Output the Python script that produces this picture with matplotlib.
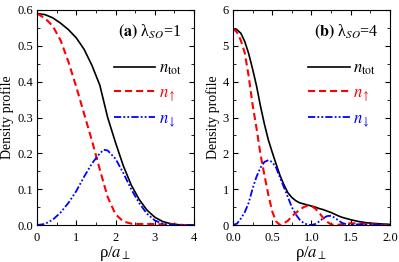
import numpy as np
import matplotlib
matplotlib.use('Agg')
import matplotlib.pyplot as plt
from matplotlib.ticker import MultipleLocator

plt.rcParams['font.family'] = ['Liberation Serif', 'DejaVu Serif']
plt.rcParams['mathtext.fontset'] = 'stix'

# panel (a), lambda_SO = 1
xa = [0, 0.2, 0.4, 0.6, 0.8, 1.0, 1.2, 1.4, 1.6, 1.8, 2.0, 2.2, 2.4, 2.6, 2.8, 3.0, 3.2, 3.4, 3.6, 3.8, 4.0]
ntot_a = [0.59, 0.587, 0.578, 0.563, 0.545, 0.522, 0.49, 0.445, 0.39, 0.30, 0.23, 0.165, 0.112, 0.072, 0.042, 0.022, 0.010, 0.004, 0.001, 0.0, 0.0]
nup_a = [0.59, 0.577, 0.555, 0.515, 0.455, 0.385, 0.31, 0.235, 0.155, 0.078, 0.03, 0.01, 0.004, 0.003, 0.003, 0.003, 0.002, 0.002, 0.001, 0.0, 0.0]
xa_dn = [0, 0.2, 0.4, 0.6, 0.8, 1.0, 1.2, 1.4, 1.6, 1.7, 1.8, 2.0, 2.2, 2.4, 2.6, 2.8, 3.0, 3.2, 3.4, 3.6, 4.0]
ndn_a = [0.0, 0.003, 0.015, 0.035, 0.062, 0.095, 0.135, 0.172, 0.2, 0.21, 0.208, 0.185, 0.145, 0.1, 0.062, 0.032, 0.013, 0.004, 0.001, 0.0, 0.0]

# panel (b), lambda_SO = 4
xb = [0.0, 0.05, 0.1, 0.15, 0.2, 0.25, 0.3, 0.35, 0.4, 0.45, 0.5, 0.55, 0.6, 0.65, 0.7, 0.75, 0.8, 0.85, 0.9, 0.95,
      1.0, 1.05, 1.1, 1.15, 1.2, 1.25, 1.3, 1.35, 1.4, 1.45, 1.5, 1.6, 1.7, 1.8, 1.9, 2.0]
ntot_b = [5.48, 5.45, 5.35, 5.12, 4.78, 4.35, 3.88, 3.32, 2.82, 2.38, 2.03, 1.7, 1.38, 1.12, 0.9, 0.77, 0.68, 0.62, 0.59, 0.56,
          0.53, 0.5, 0.46, 0.43, 0.39, 0.35, 0.3, 0.25, 0.21, 0.18, 0.15, 0.1, 0.065, 0.045, 0.03, 0.02]
nup_b = [5.48, 5.38, 5.15, 4.8, 4.15, 3.35, 2.7, 1.98, 1.4, 0.85, 0.38, 0.1, 0.0, 0.05, 0.12, 0.24, 0.34, 0.42, 0.5, 0.54,
         0.53, 0.46, 0.34, 0.2, 0.09, 0.02, 0.0, 0.01, 0.03, 0.045, 0.05, 0.045, 0.03, 0.015, 0.005, 0.0]
ndn_b = [0.0, 0.04, 0.18, 0.36, 0.62, 1.02, 1.35, 1.6, 1.76, 1.81, 1.76, 1.6, 1.32, 1.05, 0.78, 0.5, 0.3, 0.15, 0.06, 0.01,
         0.0, 0.03, 0.1, 0.19, 0.25, 0.26, 0.2, 0.12, 0.05, 0.02, 0.01, 0.02, 0.02, 0.01, 0.0, 0.0]

labels = [r'$n_{\rm tot}$', r'$n_{\uparrow}$', r'$n_{\downarrow}$']

fig = plt.figure(figsize=(3.99, 2.62), dpi=100)
ax1 = fig.add_axes([0.093, 0.141, 0.393, 0.821])
ax2 = fig.add_axes([0.584, 0.141, 0.393, 0.821])


def draw(ax, x, ntot, nup, xdn, ndn, legx):
    ax.plot(x, ntot, color='k', lw=1.2, label=labels[0])
    ax.plot(x, nup, color='#ff0000', lw=1.5, dashes=(3.4, 1.9), label=labels[1])
    ax.plot(xdn, ndn, color='#0000ff', lw=1.3, dashes=(4, 1.2, 1, 1.2, 1, 1.2), label=labels[2])
    ax.tick_params(which='both', direction='in', top=True, right=True, labelsize=9)
    ax.tick_params(axis='x', pad=5)
    ax.tick_params(axis='y', pad=3)
    ax.tick_params(which='major', length=3.5)
    ax.tick_params(which='minor', length=2)
    ax.set_ylabel('Density profile', fontsize=10, labelpad=2)
    ax.set_xlabel(r'ρ/$a_{\perp}$', fontsize=12, labelpad=0)
    leg = ax.legend(loc='upper right', bbox_to_anchor=(legx, 0.81), frameon=False, fontsize=12,
                    handlelength=2.5, labelspacing=0.45, handletextpad=0.2, borderaxespad=0.2,
                    labelcolor='linecolor')
    return leg


draw(ax1, xa, ntot_a, nup_a, xa_dn, ndn_a, 0.985)
ax1.set_xlim(0, 4)
ax1.set_ylim(0, 0.6)
ax1.xaxis.set_major_locator(MultipleLocator(1))
ax1.xaxis.set_minor_locator(MultipleLocator(0.5))
ax1.yaxis.set_major_locator(MultipleLocator(0.1))
ax1.yaxis.set_minor_locator(MultipleLocator(0.05))
ax1.set_yticklabels(['%.1f' % v for v in ax1.get_yticks()])
ax1.text(0.92, 0.9, r'$\mathbf{(a)}$ λ$_{SO}$=1', transform=ax1.transAxes, ha='right', va='center', fontsize=11.5)

draw(ax2, xb, ntot_b, nup_b, xb, ndn_b, 0.975)
ax2.set_xlim(0, 2)
ax2.set_ylim(0, 6)
ax2.xaxis.set_major_locator(MultipleLocator(0.5))
ax2.xaxis.set_minor_locator(MultipleLocator(0.25))
ax2.yaxis.set_major_locator(MultipleLocator(1))
ax2.yaxis.set_minor_locator(MultipleLocator(0.5))
ax2.set_xticklabels(['%.1f' % v for v in ax2.get_xticks()])
ax2.text(0.93, 0.9, r'$\mathbf{(b)}$ λ$_{SO}$=4', transform=ax2.transAxes, ha='right', va='center', fontsize=11.5)

fig.savefig('out.png', dpi=100)
